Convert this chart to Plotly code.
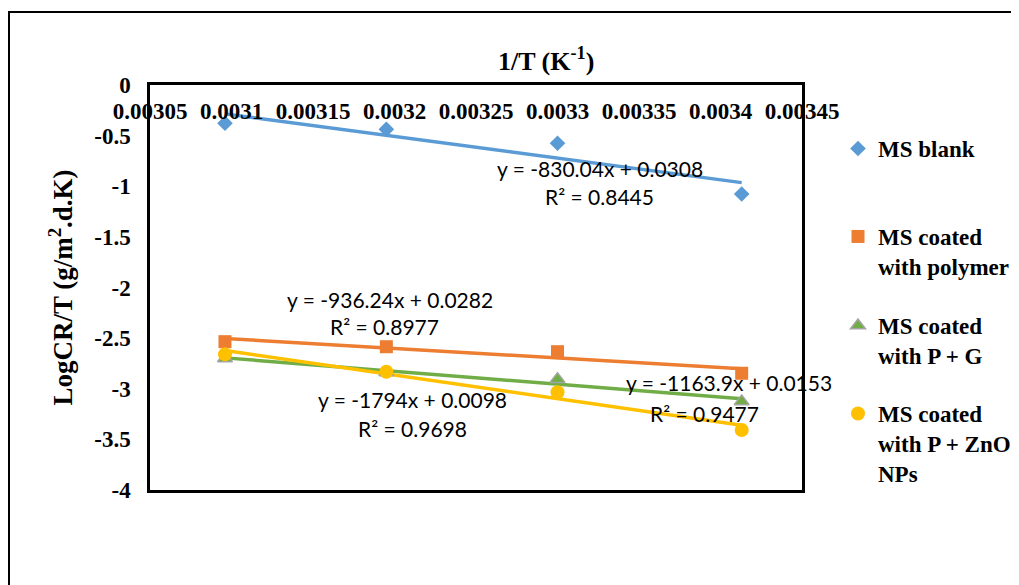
import numpy as np
import plotly.graph_objects as go

# ---------------- data ----------------
inv_T = [0.003096, 0.003195, 0.0033, 0.003413]
ms_blank = [-0.378, -0.438, -0.576, -1.077]
ms_polymer = [-2.535, -2.585, -2.634, -2.847]
ms_p_g = [-2.70, -2.84, -2.905, -3.125]
ms_p_zno = [-2.660, -2.832, -3.035, -3.407]

series_names = ["MS blank", "MS coated<br>with polymer", "MS coated<br>with P + G",
                "MS coated<br>with P + ZnO<br>NPs"]
equations = ["y = -830.04x + 0.0308", "y = -936.24x + 0.0282",
             "y = -1163.9x + 0.0153", "y = -1794x + 0.0098"]
r2_labels = ["R² = 0.8445", "R² = 0.8977", "R² = 0.9477", "R² = 0.9698"]

x_tick_vals = [0.00305, 0.0031, 0.00315, 0.0032, 0.00325, 0.0033, 0.00335, 0.0034, 0.00345]
x_tick_text = ["0.00305", "0.0031", "0.00315", "0.0032", "0.00325", "0.0033", "0.00335", "0.0034", "0.00345"]
y_tick_vals = [0, -0.5, -1, -1.5, -2, -2.5, -3, -3.5, -4]
y_tick_text = ["0", "-0.5", "-1", "-1.5", "-2", "-2.5", "-3", "-3.5", "-4"]

# ---------------- styles / positions ----------------
series = [ms_blank, ms_polymer, ms_p_g, ms_p_zno]
colors = ["#5B9BD5", "#ED7D31", "#70AD47", "#FFC000"]
symbols = ["diamond", "square", "triangle-up", "circle"]
msizes = [12, 13, 13, 14]
mline = [dict(width=0), dict(width=0), dict(width=1.5, color="#A5A5A5"), dict(width=0)]
# label positions (data coords): equation (x, y), R2 (x, y)
eq_pos = [(0.003326, -0.82), (0.003197, -2.12), (0.003405, -2.94), (0.003211, -3.11)]
r2_pos = [(0.003326, -1.105), (0.003194, -2.39), (0.003390, -3.24), (0.003211, -3.39)]
legend_tops = [127, 215, 304, 392]  # page pixel y of legend boxes

OFF = 8  # page body margin
W, H = 1019 - OFF, 585 - OFF
ML, MT = 150 - OFF, 85 - OFF
MR = W - (802 - OFF)
MB = H - (490 - OFF)
PW, PH = W - ML - MR, H - MT - MB

def px_x(px):
    return (px - OFF - ML) / PW

def px_y(py):
    return (H - MB - (py - OFF)) / PH

serif = "Liberation Serif"
fig = go.Figure()

# trendlines
for ys, c in zip(series, colors):
    m, b = np.polyfit(inv_T, ys, 1)
    xs = np.array([min(inv_T), max(inv_T)])
    fig.add_trace(go.Scatter(x=xs, y=m * xs + b, mode="lines",
                             line=dict(color=c, width=3.5), showlegend=False,
                             hoverinfo="skip"))

legend_keys = ["legend", "legend2", "legend3", "legend4"]
for i, (ys, name) in enumerate(zip(series, series_names)):
    fig.add_trace(go.Scatter(x=inv_T, y=ys, mode="markers", name=name,
                             marker=dict(symbol=symbols[i], color=colors[i], size=msizes[i],
                                         line=mline[i]),
                             legend=legend_keys[i]))

for i in range(4):
    fig.add_annotation(x=eq_pos[i][0], y=eq_pos[i][1], text=equations[i], showarrow=False,
                       font=dict(family="Lato", size=21, color="#000000"))
    fig.add_annotation(x=r2_pos[i][0], y=r2_pos[i][1], text=r2_labels[i], showarrow=False,
                       font=dict(family="Lato", size=21, color="#000000"))

# x axis title (as in reference, offset to the right)
fig.add_annotation(xref="paper", yref="paper", x=px_x(546), y=px_y(60),
                   xanchor="center", yanchor="middle",
                   text="1/T (K<sup>-1</sup>)", showarrow=False,
                   font=dict(family=serif, size=26, color="#000000", weight="bold"))

# outer chart border
fig.add_shape(type="rect", xref="paper", yref="paper",
              x0=px_x(9), y0=px_y(12), x1=px_x(1040), y1=px_y(620),
              line=dict(color="#000000", width=2), fillcolor="rgba(0,0,0,0)", layer="below")

leg_common = dict(font=dict(family=serif, size=23, color="#000000", weight="bold"),
                  bgcolor="rgba(0,0,0,0)", xanchor="left", yanchor="top",
                  valign="top", itemwidth=30)
layout_legends = {}
for i, k in enumerate(legend_keys):
    layout_legends[k] = dict(x=px_x(838), y=px_y(legend_tops[i]), **leg_common)

fig.update_layout(
    width=W, height=H,
    margin=dict(l=ML, r=MR, t=MT, b=MB, autoexpand=False),
    paper_bgcolor="#FFFFFF", plot_bgcolor="#FFFFFF",
    **layout_legends,
    xaxis=dict(range=[0.00305, 0.00345], side="top", ticklabelposition="inside",
               ticklabeloverflow="allow", tickvals=x_tick_vals, ticktext=x_tick_text,
               ticks="", showgrid=False, zeroline=False, showline=True, mirror=True,
               linecolor="#000000", linewidth=2.5, ticklabelstandoff=20,
               tickfont=dict(family=serif, size=23, color="#000000", weight="bold")),
    yaxis=dict(range=[-4, 0], tickvals=y_tick_vals, ticktext=y_tick_text,
               ticks="", showgrid=False, zeroline=False, showline=True, mirror=True,
               linecolor="#000000", linewidth=2.5, ticklabelstandoff=12,
               tickfont=dict(family=serif, size=23, color="#000000", weight="bold"),
               title=dict(text="LogCR/T (g/m<sup>2</sup>.d.K)", standoff=14,
                          font=dict(family=serif, size=27, color="#000000", weight="bold"))),
)

fig.write_html("out.html")
